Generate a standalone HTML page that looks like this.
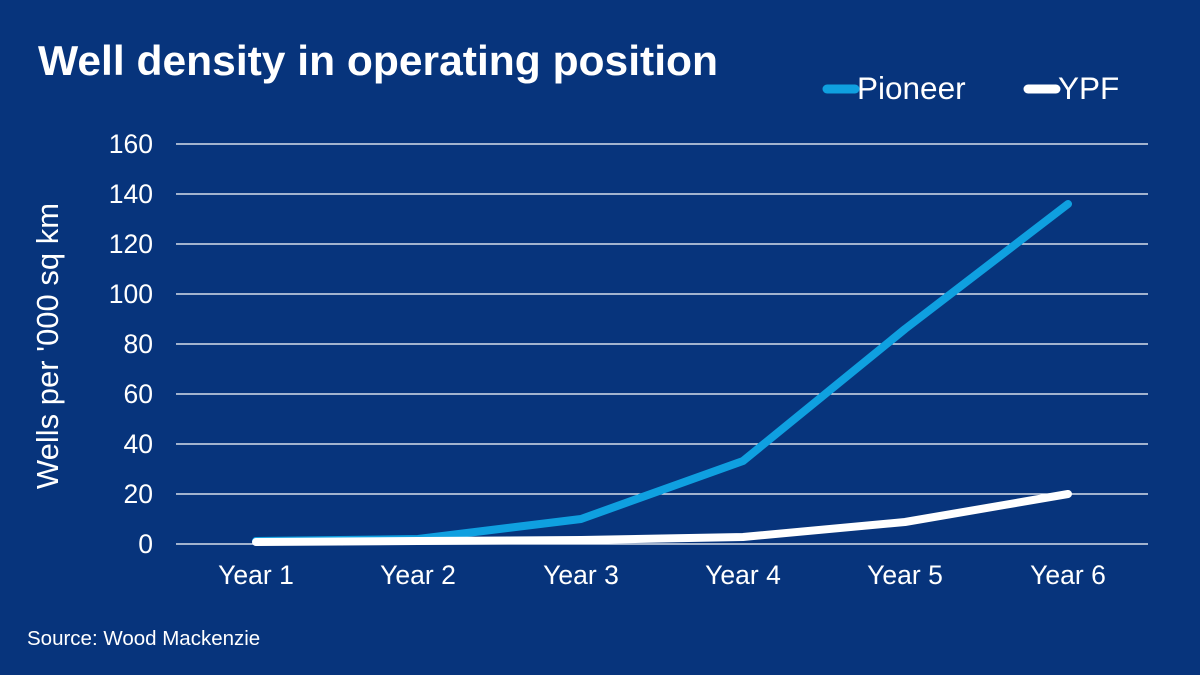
<!DOCTYPE html>
<html><head><meta charset="utf-8"><style>
html,body{margin:0;padding:0;background:#07347c;}
svg{display:block;font-family:"Liberation Sans",Arial,sans-serif;}
</style></head><body>
<svg width="1200" height="675" viewBox="0 0 1200 675">
<rect width="1200" height="675" fill="#07347c"/>
<text x="38" y="75" font-size="42" font-weight="bold" fill="#fff" textLength="680" lengthAdjust="spacingAndGlyphs">Well density in operating position</text>
<line x1="827" y1="89" x2="855" y2="89" stroke="#0fa0e0" stroke-width="9" stroke-linecap="round"/>
<text x="857" y="99" font-size="31.5" fill="#fff">Pioneer</text>
<line x1="1028" y1="89" x2="1056" y2="89" stroke="#fff" stroke-width="9" stroke-linecap="round"/>
<text x="1058" y="99" font-size="31.5" fill="#fff">YPF</text>
<g stroke="#fff" stroke-width="1.2">
<line x1="176" x2="1148" y1="144" y2="144"/><line x1="176" x2="1148" y1="194" y2="194"/>
<line x1="176" x2="1148" y1="244" y2="244"/><line x1="176" x2="1148" y1="294" y2="294"/>
<line x1="176" x2="1148" y1="344" y2="344"/><line x1="176" x2="1148" y1="394" y2="394"/>
<line x1="176" x2="1148" y1="444" y2="444"/><line x1="176" x2="1148" y1="494" y2="494"/>
<line x1="176" x2="1148" y1="544" y2="544"/>
</g>
<g fill="#fff" font-size="26.5" text-anchor="end">
<text x="153" y="153">160</text><text x="153" y="203">140</text><text x="153" y="253">120</text>
<text x="153" y="303">100</text><text x="153" y="353">80</text><text x="153" y="403">60</text>
<text x="153" y="453">40</text><text x="153" y="503">20</text><text x="153" y="553">0</text>
</g>
<g fill="#fff" font-size="26.5" text-anchor="middle">
<text x="256" y="584">Year 1</text><text x="418" y="584">Year 2</text><text x="581" y="584">Year 3</text>
<text x="743" y="584">Year 4</text><text x="905" y="584">Year 5</text><text x="1068" y="584">Year 6</text>
</g>
<text transform="translate(58,346) rotate(-90)" font-size="31" fill="#fff" text-anchor="middle">Wells per '000 sq km</text>
<polyline fill="none" stroke="#0fa0e0" stroke-width="8" stroke-linejoin="round" stroke-linecap="round" points="256,541 418,539 581,519 743,461 905,329 1068,204"/>
<polyline fill="none" stroke="#fff" stroke-width="8" stroke-linejoin="round" stroke-linecap="round" points="256,542 418,541 581,540 743,537 905,522 1068,494"/>
<text x="27" y="645" font-size="20.5" fill="#fff">Source: Wood Mackenzie</text>
</svg>
</body></html>
